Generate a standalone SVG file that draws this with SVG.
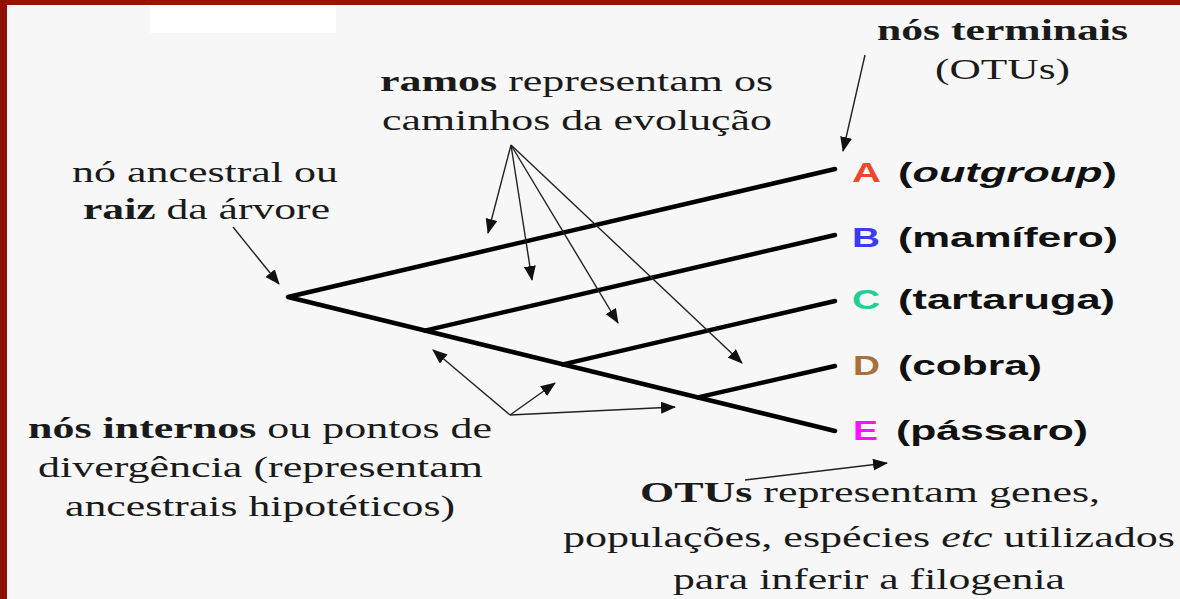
<svg xmlns="http://www.w3.org/2000/svg" width="1180" height="599" viewBox="0 0 1180 599">
<style>
.serif{font-family:"Liberation Serif","Times New Roman",serif;font-size:30px;fill:#1a1a1a}
.b{font-weight:bold}
.lab{font-family:"Liberation Sans",Arial,sans-serif;font-weight:bold;font-size:27px;fill:#111}
.branch{stroke:#000;stroke-width:4.5;fill:none;stroke-linecap:round;stroke-linejoin:round}
.arr{stroke:#222;stroke-width:1.4;fill:none;marker-end:url(#ah)}
</style>
<defs>
<marker id="ah" markerUnits="userSpaceOnUse" markerWidth="16" markerHeight="12" refX="14" refY="6" orient="auto">
<path d="M0,0 L15,6 L0,12 Z" fill="#111"/>
</marker>
</defs>
<rect x="0" y="0" width="1180" height="599" fill="#f7f7f7"/>
<rect x="150" y="5" width="186" height="28" fill="#ffffff"/>
<rect x="0" y="0" width="1180" height="5" fill="#981200"/>
<rect x="0" y="0" width="7" height="599" fill="#8e1000"/>

<g id="tree">
<path class="branch" d="M835,169 L288,297 L835,431"/>
<path class="branch" d="M425,330.6 L835,235"/>
<path class="branch" d="M563,364.4 L835,301"/>
<path class="branch" d="M698,397.4 L835,366"/>
</g>

<g id="connectors">
<line class="arr" x1="233" y1="227" x2="279" y2="284"/>
<line class="arr" x1="511" y1="145" x2="488" y2="233"/>
<line class="arr" x1="511" y1="145" x2="532" y2="280"/>
<line class="arr" x1="511" y1="145" x2="618" y2="323"/>
<line class="arr" x1="511" y1="145" x2="742" y2="363"/>
<line class="arr" x1="510" y1="415" x2="433" y2="350"/>
<line class="arr" x1="510" y1="415" x2="555" y2="383"/>
<line class="arr" x1="510" y1="415" x2="675" y2="407"/>
<line class="arr" x1="865" y1="55" x2="843" y2="151"/>
<line class="arr" x1="745" y1="480" x2="887" y2="463"/>
</g>

<g id="node-A">
<text class="lab" x="852" y="182" textLength="29" lengthAdjust="spacingAndGlyphs" fill="#f2452a" style="fill:#f2452a">A</text>
<text class="lab" x="898" y="182" textLength="219" lengthAdjust="spacingAndGlyphs">(<tspan font-style="italic">outgroup</tspan>)</text>
</g>
<g id="node-B">
<text class="lab" x="852" y="247" textLength="28" lengthAdjust="spacingAndGlyphs" style="fill:#3b3bef">B</text>
<text class="lab" x="898" y="247" textLength="220" lengthAdjust="spacingAndGlyphs">(mamífero)</text>
</g>
<g id="node-C">
<text class="lab" x="852" y="309" textLength="28" lengthAdjust="spacingAndGlyphs" style="fill:#1fcf98">C</text>
<text class="lab" x="898" y="309" textLength="217" lengthAdjust="spacingAndGlyphs">(tartaruga)</text>
</g>
<g id="node-D">
<text class="lab" x="853" y="375" textLength="27" lengthAdjust="spacingAndGlyphs" style="fill:#a8703a">D</text>
<text class="lab" x="898" y="375" textLength="144" lengthAdjust="spacingAndGlyphs">(cobra)</text>
</g>
<g id="node-E">
<text class="lab" x="853" y="440" textLength="25" lengthAdjust="spacingAndGlyphs" style="fill:#ff12ff">E</text>
<text class="lab" x="896" y="440" textLength="192" lengthAdjust="spacingAndGlyphs">(pássaro)</text>
</g>

<g id="label-terminais">
<text class="serif b" x="877" y="40" font-size="28" textLength="251" lengthAdjust="spacingAndGlyphs">nós terminais</text>
<text class="serif" x="935" y="79" font-size="28" textLength="135" lengthAdjust="spacingAndGlyphs">(OTUs)</text>
</g>
<g id="label-ramos">
<text class="serif" x="380" y="91" textLength="393" lengthAdjust="spacingAndGlyphs"><tspan font-weight="bold">ramos</tspan> representam os</text>
<text class="serif" x="382" y="130" textLength="390" lengthAdjust="spacingAndGlyphs">caminhos da evolução</text>
</g>
<g id="label-raiz">
<text class="serif" x="72" y="182" textLength="266" lengthAdjust="spacingAndGlyphs">nó ancestral ou</text>
<text class="serif" x="83" y="219" textLength="247" lengthAdjust="spacingAndGlyphs"><tspan font-weight="bold">raiz</tspan> da árvore</text>
</g>
<g id="label-internos">
<text class="serif" x="28" y="438" textLength="464" lengthAdjust="spacingAndGlyphs"><tspan font-weight="bold">nós internos</tspan> ou pontos de</text>
<text class="serif" x="38" y="477" textLength="445" lengthAdjust="spacingAndGlyphs">divergência (representam</text>
<text class="serif" x="65" y="516" textLength="390" lengthAdjust="spacingAndGlyphs">ancestrais hipotéticos)</text>
</g>
<g id="label-otus">
<text class="serif" x="640" y="502" textLength="460" lengthAdjust="spacingAndGlyphs"><tspan font-weight="bold">OTUs</tspan> representam genes,</text>
<text class="serif" x="563" y="547" textLength="612" lengthAdjust="spacingAndGlyphs">populações, espécies <tspan font-style="italic">etc</tspan> utilizados</text>
<text class="serif" x="673" y="589" textLength="392" lengthAdjust="spacingAndGlyphs">para inferir a filogenia</text>
</g>
</svg>
